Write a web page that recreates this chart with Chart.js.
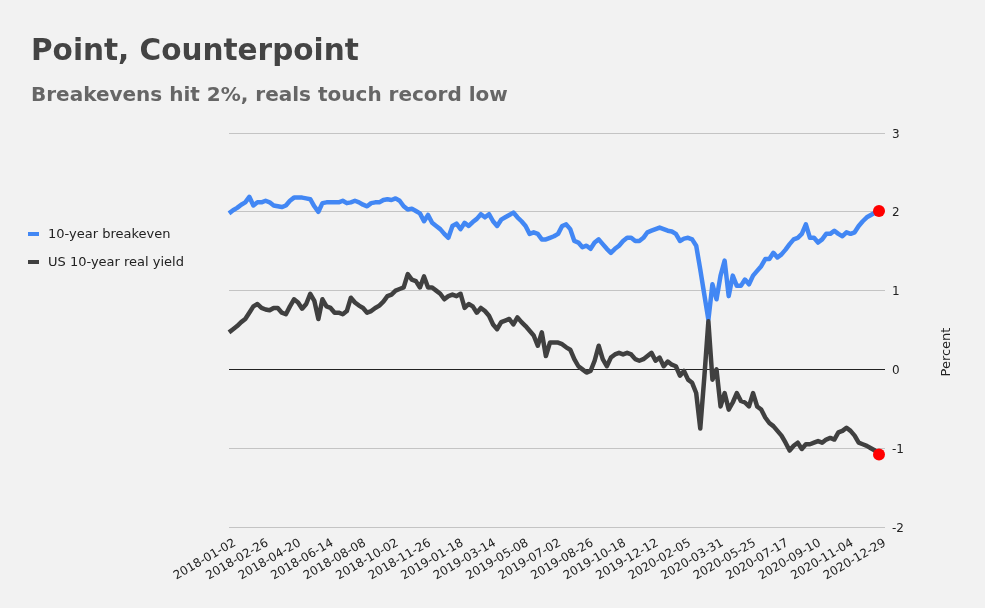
<!DOCTYPE html>
<html>
<head>
<meta charset="utf-8">
<script src="https://cdn.jsdelivr.net/npm/chart.js@4"></script>
<style>
  html, body { margin: 0; padding: 0; background: #f2f2f2; }
  #wrap { position: relative; width: 985px; height: 608px; font-family: "DejaVu Sans", Verdana, sans-serif; }
  #chart { position: absolute; left: 0; top: 0; }
  h1 { position: absolute; left: 31px; top: 36px; margin: 0; font-size: 29.5px; line-height: 29px; font-weight: bold; color: #444; }
  h2 { position: absolute; left: 31px; top: 84px; margin: 0; font-size: 20px; line-height: 20px; font-weight: bold; color: #666; }
  #legend { position: absolute; left: 28px; top: 225px; font-size: 13px; color: #222; }
  #legend div { height: 28px; line-height: 18px; white-space: nowrap; }
  #legend span { display: inline-block; width: 11px; height: 4px; margin-right: 9px; vertical-align: middle; position: relative; top: -1px; }
</style>
</head>
<body>
<div id="wrap">
  <canvas id="chart" width="985" height="608"></canvas>
  <h1>Point, Counterpoint</h1>
  <h2>Breakevens hit 2%, reals touch record low</h2>
  <div id="legend"></div>
</div>
<script>
// tick labels on the date axis, one every 8 points
const tickLabels = ['2018-01-02', '2018-02-26', '2018-04-20', '2018-06-14', '2018-08-08', '2018-10-02',
  '2018-11-26', '2019-01-18', '2019-03-14', '2019-05-08', '2019-07-02', '2019-08-26', '2019-10-18',
  '2019-12-12', '2020-02-05', '2020-03-31', '2020-05-25', '2020-07-17', '2020-09-10', '2020-11-04', '2020-12-29']
const perTick = 8

// 10-year breakeven, %
const breakeven = [
  1.98, 2.02, 2.05, 2.09, 2.12, 2.19, 2.08, 2.12, 2.12, 2.14, 2.12, 2.08, 2.07, 2.06, 2.08, 2.14, 2.18, 2.18, 2.18, 2.17, 2.16, 2.07, 2.00, 2.11, 2.12, 2.12, 2.12,
  2.12, 2.14, 2.11, 2.12, 2.14, 2.12, 2.09, 2.07, 2.11, 2.12, 2.12, 2.15, 2.16, 2.15, 2.17, 2.14, 2.07, 2.03, 2.04, 2.01, 1.98, 1.88, 1.96, 1.86, 1.82, 1.78, 1.72, 1.67,
  1.82, 1.85, 1.78, 1.86, 1.82, 1.87, 1.91, 1.97, 1.93, 1.97, 1.88, 1.82, 1.90, 1.93, 1.96, 1.99, 1.93, 1.88, 1.82, 1.72, 1.74, 1.72, 1.65, 1.65, 1.67, 1.69,
  1.72, 1.82, 1.84, 1.78, 1.63, 1.61, 1.55, 1.57, 1.53, 1.61, 1.65, 1.59, 1.53, 1.48, 1.53, 1.57, 1.63, 1.67, 1.67, 1.63, 1.63, 1.67, 1.74, 1.76, 1.78, 1.80, 1.78,
  1.76, 1.75, 1.72, 1.63, 1.66, 1.67, 1.65, 1.57, 1.27, 0.95, 0.63, 1.08, 0.89, 1.19, 1.38, 0.93, 1.19, 1.06, 1.06, 1.14, 1.08, 1.19, 1.25, 1.31, 1.40, 1.40, 1.48,
  1.42, 1.46, 1.52, 1.59, 1.65, 1.67, 1.72, 1.84, 1.67, 1.67, 1.61, 1.65, 1.72, 1.72, 1.76, 1.72, 1.69, 1.74, 1.72, 1.74, 1.82, 1.88, 1.93, 1.96, 1.99, 2.01
]

// US 10-year real yield, %
const realYield = [
  0.47, 0.51, 0.55, 0.60, 0.64, 0.72, 0.80, 0.83, 0.78, 0.76, 0.75, 0.78, 0.78, 0.72, 0.70, 0.80, 0.89, 0.85, 0.77, 0.83, 0.96, 0.87, 0.64, 0.89, 0.80, 0.78, 0.72,
  0.72, 0.70, 0.74, 0.91, 0.85, 0.81, 0.78, 0.72, 0.74, 0.78, 0.81, 0.86, 0.93, 0.95, 1.00, 1.02, 1.04, 1.21, 1.14, 1.12, 1.04, 1.18, 1.04, 1.04, 1.00, 0.96, 0.89, 0.93,
  0.95, 0.93, 0.96, 0.78, 0.83, 0.80, 0.72, 0.78, 0.74, 0.68, 0.57, 0.51, 0.60, 0.62, 0.64, 0.57, 0.66, 0.60, 0.55, 0.49, 0.43, 0.30, 0.47, 0.17, 0.34, 0.34,
  0.34, 0.32, 0.28, 0.25, 0.13, 0.04, 0.00, -0.04, -0.02, 0.11, 0.30, 0.13, 0.04, 0.15, 0.19, 0.21, 0.19, 0.21, 0.19, 0.13, 0.11, 0.13, 0.17, 0.21, 0.11, 0.15, 0.04,
  0.10, 0.06, 0.04, -0.08, -0.02, -0.13, -0.17, -0.30, -0.75, -0.10, 0.61, -0.13, 0.00, -0.47, -0.30, -0.51, -0.42, -0.30, -0.40, -0.42, -0.47, -0.30, -0.47, -0.51, -0.61, -0.68, -0.72,
  -0.78, -0.84, -0.93, -1.03, -0.97, -0.93, -1.01, -0.95, -0.95, -0.93, -0.91, -0.93, -0.89, -0.87, -0.89, -0.80, -0.78, -0.74, -0.78, -0.84, -0.93, -0.95, -0.97, -1.00, -1.03, -1.08
]

const yTicks = [-2, -1, 0, 1, 2, 3]

const labels = breakeven.map((v, i) => i % perTick === 0 ? tickLabels[i / perTick] : '')
const lastDot = (ctx) => ctx.dataIndex === breakeven.length - 1 ? 6 : 0

// "Percent" reads bottom to top, so draw it ourselves
const axisTitle = {
  id: 'axisTitle',
  afterDraw(chart) {
    const c = chart.ctx
    c.save()
    c.translate(947, 352)
    c.rotate(-Math.PI / 2)
    c.font = '13px "DejaVu Sans"'
    c.fillStyle = '#222'
    c.textAlign = 'center'
    c.textBaseline = 'middle'
    c.fillText('Percent', 0, 0)
    c.restore()
  }
}

const chart = new Chart(document.getElementById('chart'), {
  type: 'line',
  data: {
    labels: labels,
    datasets: [{
      label: '10-year breakeven',
      data: breakeven,
      borderColor: '#4287f4',
      borderWidth: 4.5,
      pointRadius: lastDot,
      pointHoverRadius: lastDot,
      pointBackgroundColor: '#ff0000',
      pointBorderColor: '#ff0000',
      pointBorderWidth: 0,
      order: 1
    }, {
      label: 'US 10-year real yield',
      data: realYield,
      borderColor: '#404040',
      borderWidth: 4.5,
      pointRadius: lastDot,
      pointHoverRadius: lastDot,
      pointBackgroundColor: '#ff0000',
      pointBorderColor: '#ff0000',
      pointBorderWidth: 0,
      order: 0
    }]
  },
  options: {
    responsive: false,
    animation: false,
    devicePixelRatio: 1,
    layout: { padding: { left: 229, top: 133, right: 0, bottom: 0 } },
    elements: {
      line: { tension: 0, borderJoinStyle: 'round' }
    },
    plugins: {
      legend: { display: false },
      tooltip: { enabled: false }
    },
    scales: {
      x: {
        grid: { display: false },
        border: { display: false },
        afterFit: (scale) => { scale.height = 81 },
        ticks: {
          autoSkip: false,
          maxRotation: 30,
          minRotation: 30,
          padding: 1,
          labelOffset: 6,
          color: '#222',
          font: { family: 'DejaVu Sans', size: 12 },
          callback: function(v, i) { return labels[i] }
        }
      },
      y: {
        position: 'right',
        min: -2,
        max: 3,
        afterFit: (scale) => { scale.width = 106 },
        afterBuildTicks: (scale) => { scale.ticks = yTicks.map(v => ({ value: v })) },
        border: { display: false },
        grid: {
          tickLength: 6,
          color: (ctx) => ctx.tick && ctx.tick.value === 0 ? '#222' : '#c4c4c4'
        },
        ticks: {
          padding: 7,
          labelOffset: 1.5,
          color: '#222',
          font: { family: 'DejaVu Sans', size: 12 }
        }
      }
    }
  },
  plugins: [axisTitle]
})

// legend on the left, built from the datasets
const legend = document.getElementById('legend')
chart.data.datasets.forEach(function(ds) {
  const row = document.createElement('div')
  const sw = document.createElement('span')
  sw.style.background = ds.borderColor
  row.appendChild(sw)
  row.appendChild(document.createTextNode(ds.label))
  legend.appendChild(row)
})
</script>
</body>
</html>
